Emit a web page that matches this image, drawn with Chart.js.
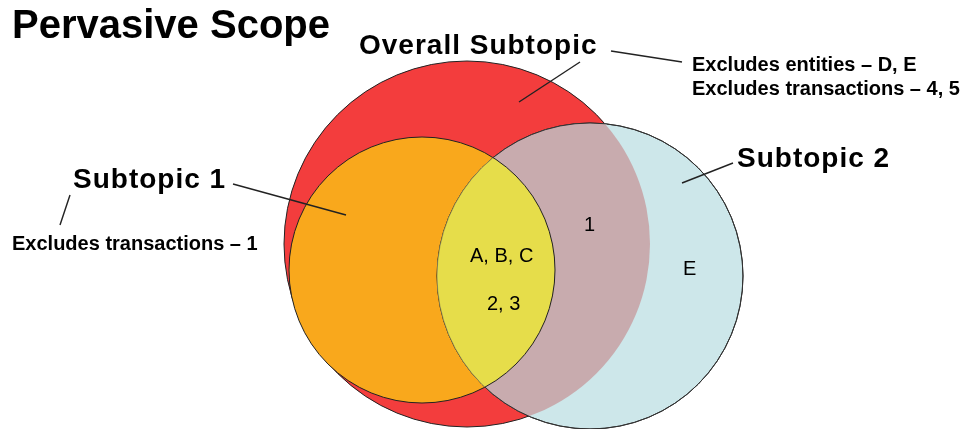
<!DOCTYPE html>
<html>
<head>
<meta charset="utf-8">
<script src="https://cdn.jsdelivr.net/npm/chart.js@4/dist/chart.umd.min.js"></script>
<style>
  html, body { margin: 0; padding: 0; background: #fff; }
  #wrap { width: 971px; height: 429px; }
</style>
</head>
<body>
<div id="wrap"><canvas id="chart-venn" width="971" height="429"></canvas></div>
<script>
// circles: Overall Subtopic, Subtopic 1, Subtopic 2 (plot units = pixels, y downward)
const circleNames = ["Overall Subtopic", "Subtopic 1", "Subtopic 2"];
const circleX = [467, 422, 590];
const circleY = [244, 270, 276];
const circleR = [183, 133, 153];
const circleColors = ["#f33d3d", "#f9a81c", "#cde7ea"];

// overlap fills
const pinkFill = "#c8abae";   // Overall ∩ Subtopic 2
const yellowFill = "#e6dd4a"; // Subtopic 1 ∩ Subtopic 2

// leader lines [x1, y1, x2, y2]
const leaderFrom = [[611, 51], [580, 62], [233, 184], [70, 195], [733, 163]];
const leaderTo = [[682, 62], [519, 102], [346, 215], [60, 225], [682, 183]];

// text labels
const labelTexts = ["Pervasive Scope", "Overall Subtopic", "Subtopic 1", "Subtopic 2",
  "Excludes entities \u2013 D, E", "Excludes transactions \u2013 4, 5", "Excludes transactions \u2013 1",
  "A, B, C", "2, 3", "1", "E"];
const labelX = [12, 359, 73, 737, 692, 692, 12, 470, 487, 584, 683];
const labelY = [38, 54, 188, 167, 71, 95, 250, 262, 310, 231, 275];
const labelFonts = ["bold 40px", "bold 28px", "bold 28px", "bold 28px", "bold 20px", "bold 20px",
  "bold 20px", "20px", "20px", "20px", "20px"];
const labelSpacing = [0, 1, 1, 1, 0, 0, 0, 0, 0, 0, 0];

const FONT = "Arial, 'Liberation Sans', sans-serif";

function circlePath(ctx, chart, i, extra = 0) {
  const x = chart.scales.x.getPixelForValue(circleX[i]);
  const y = chart.scales.y.getPixelForValue(circleY[i]);
  ctx.beginPath();
  ctx.arc(x, y, circleR[i] + extra, 0, Math.PI * 2);
}

const overlapPlugin = {
  id: "overlap",
  afterDatasetDraw(chart, args) {
    if (args.index !== 0) return;
    const ctx = chart.ctx;
    ctx.save();
    circlePath(ctx, chart, 2);
    ctx.clip();
    // hide the red outline inside subtopic 2
    circlePath(ctx, chart, 0);
    ctx.strokeStyle = circleColors[2];
    ctx.lineWidth = 2;
    ctx.stroke();
    circlePath(ctx, chart, 0);
    ctx.fillStyle = pinkFill;
    ctx.fill();
    circlePath(ctx, chart, 1);
    ctx.fillStyle = yellowFill;
    ctx.fill();
    ctx.strokeStyle = "#222";
    ctx.lineWidth = 1;
    ctx.stroke();
    ctx.restore();

    // subtopic 2 outline: dark outside subtopic 1, faint inside it
    ctx.save();
    ctx.beginPath();
    ctx.rect(0, 0, chart.width, chart.height);
    const ox = chart.scales.x.getPixelForValue(circleX[1]);
    const oy = chart.scales.y.getPixelForValue(circleY[1]);
    ctx.moveTo(ox + circleR[1], oy);
    ctx.arc(ox, oy, circleR[1], 0, Math.PI * 2);
    ctx.clip("evenodd");
    circlePath(ctx, chart, 2);
    ctx.strokeStyle = "#333";
    ctx.lineWidth = 1;
    ctx.stroke();
    ctx.restore();
    ctx.save();
    circlePath(ctx, chart, 1);
    ctx.clip();
    circlePath(ctx, chart, 2);
    ctx.strokeStyle = "rgba(90,90,60,0.45)";
    ctx.lineWidth = 1;
    ctx.stroke();
    ctx.restore();
  },
  afterDraw(chart) {
    const ctx = chart.ctx;
    ctx.save();
    ctx.fillStyle = "#000";
    ctx.textBaseline = "alphabetic";
    ctx.textAlign = "left";
    labelTexts.forEach((t, i) => {
      ctx.font = `${labelFonts[i]} ${FONT}`;
      ctx.letterSpacing = labelSpacing[i] + "px";
      ctx.fillText(t, chart.scales.x.getPixelForValue(labelX[i]), chart.scales.y.getPixelForValue(labelY[i]));
    });
    ctx.restore();
  },
};

const leaderSets = leaderFrom.map((p, i) => ({
  type: "line",
  data: [{ x: p[0], y: p[1] }, { x: leaderTo[i][0], y: leaderTo[i][1] }],
  borderColor: "#222",
  borderWidth: 1.4,
  pointRadius: 0,
  fill: false,
  order: 0,
  clip: false,
}));

new Chart(document.getElementById("chart-venn"), {
  type: "bubble",
  data: {
    datasets: [
      {
        label: "Scope",
        data: circleNames.map((n, i) => ({ x: circleX[i], y: circleY[i], r: circleR[i] })),
        backgroundColor: circleColors,
        borderColor: "#222",
        borderWidth: 1,
        hoverRadius: 0,
        order: 1,
        clip: false,
      },
      ...leaderSets,
    ],
  },
  plugins: [overlapPlugin],
  options: {
    responsive: false,
    animation: false,
    events: [],
    layout: { padding: 0, autoPadding: false },
    scales: {
      x: { type: "linear", min: 0, max: 971, display: false },
      y: { type: "linear", min: 0, max: 429, reverse: true, display: false },
    },
    plugins: {
      legend: { display: false },
      tooltip: { enabled: false },
      title: { display: false },
    },
  },
});
</script>
</body>
</html>
